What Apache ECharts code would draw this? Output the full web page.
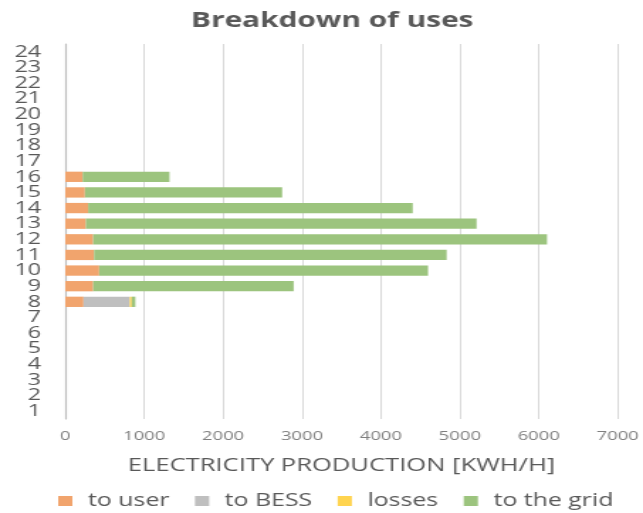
<!DOCTYPE html>
<html>
<head>
<meta charset="utf-8">
<script src="https://cdn.jsdelivr.net/npm/echarts@6/dist/echarts.min.js"></script>
<style>
  html, body { margin: 0; padding: 0; background: #fff; overflow: hidden; }
  #frame { width: 643px; height: 513px; overflow: hidden; }
  /* the chart is laid out narrow and widened, giving the broad lettering of the report figure */
  #chart { width: 453px; height: 513px; transform: scaleX(1.41943); transform-origin: 0 0; }
</style>
</head>
<body>
<div id="frame"><div id="chart"></div></div>
<script>
// Hours of the day (category axis, bottom to top)
const hours = ['1','2','3','4','5','6','7','8','9','10','11','12','13','14','15','16','17','18','19','20','21','22','23','24'];

// Electricity production by use, kWh/h for each hour
const toUser  = [0,0,0,0,0,0,0,231,353,429,365,353,260,290,248,220,0,0,0,0,0,0,0,0];
const toBESS  = [0,0,0,0,0,0,0,586,0,0,0,0,0,0,0,0,0,0,0,0,0,0,0,0];
const losses  = [0,0,0,0,0,0,0,25,0,0,0,0,0,0,0,0,0,0,0,0,0,0,0,0];
const toGrid  = [0,0,0,0,0,0,0,46,2541,4168,4468,5752,4952,4113,2500,1100,0,0,0,0,0,0,0,0];

const seriesNames = ['to user', 'to BESS', 'losses', 'to the grid'];
const seriesColors = ['#F1A46D', '#BFBFBF', '#FFD44F', '#9CC47E'];
const seriesData = [toUser, toBESS, losses, toGrid];

const FONT = '"Open Sans", "DejaVu Sans", sans-serif';

const chart = echarts.init(document.getElementById('chart'), null, { renderer: 'canvas' });

chart.setOption({
  animation: false,
  backgroundColor: '#ffffff',
  title: {
    text: 'Breakdown of uses',
    left: 229,
    textAlign: 'center',
    top: 6,
    textStyle: { fontFamily: FONT, fontSize: 21, fontWeight: 'bold', color: '#595959' }
  },
  legend: {
    left: 36,
    top: 487,
    itemWidth: 10,
    itemHeight: 10,
    itemGap: 18,
    icon: 'rect',
    textStyle: { fontFamily: FONT, fontSize: 17.5, color: '#595959', padding: [0, 0, 0, 6] },
    data: seriesNames
  },
  grid: { left: 46, right: 17, top: 44, bottom: 94, containLabel: false },
  xAxis: {
    type: 'value',
    min: 0,
    max: 7000,
    interval: 1000,
    name: 'ELECTRICITY PRODUCTION [KWH/H]',
    nameLocation: 'middle',
    nameGap: 38,
    nameTextStyle: { fontFamily: FONT, fontSize: 18, color: '#595959' },
    axisLine: { show: false },
    axisTick: { show: false },
    axisLabel: { fontFamily: FONT, fontSize: 13, color: '#7f7f7f', margin: 11, formatter: v => String(v) },
    splitLine: { show: true, lineStyle: { color: '#d9d9d9', width: 1 } }
  },
  yAxis: {
    type: 'category',
    data: hours,
    axisLine: { show: true, lineStyle: { color: '#bfbfbf', width: 1.2 } },
    axisTick: { show: false },
    axisLabel: { fontFamily: FONT, fontSize: 16.5, color: '#595959', margin: 17, interval: 0 }
  },
  series: seriesData.map((d, i) => ({
    name: seriesNames[i],
    type: 'bar',
    stack: 'uses',
    data: d,
    barCategoryGap: '34%',
    itemStyle: { color: seriesColors[i] },
    emphasis: { disabled: true }
  }))
});
</script>
</body>
</html>
